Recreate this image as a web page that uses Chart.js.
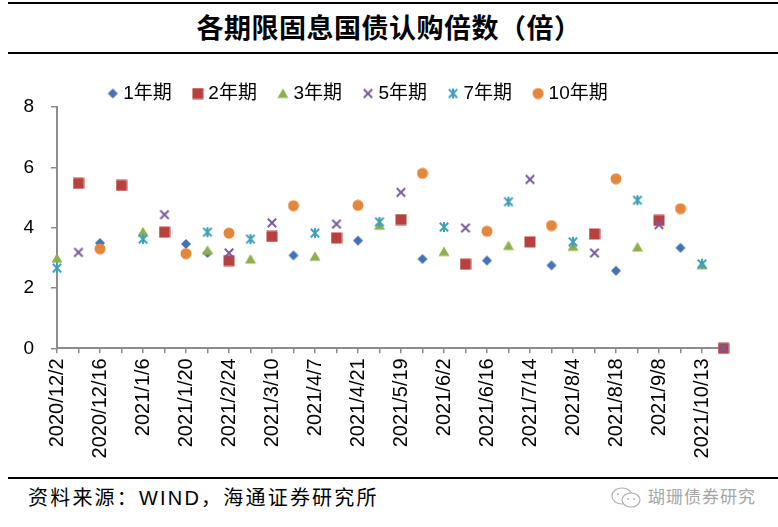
<!DOCTYPE html>
<html>
<head>
<meta charset="utf-8">
<script src="https://cdn.jsdelivr.net/npm/chart.js@4.4.0/dist/chart.umd.min.js"></script>
<style>
html,body{margin:0;padding:0;background:#fff;}
body{width:778px;height:527px;overflow:hidden;position:relative;font-family:"Liberation Sans","Noto Sans CJK SC",sans-serif;color:#000;}
.rule{position:absolute;left:8px;width:770px;height:2px;background:#000;}
#title{position:absolute;left:0;width:778px;top:11px;text-align:center;font-family:"Noto Sans CJK SC",sans-serif;font-weight:bold;font-size:27px;line-height:32px;letter-spacing:0.5px;}
#wrap{position:absolute;left:0;top:60px;width:778px;height:410px;}
#src{position:absolute;left:28px;top:485px;font-size:20px;line-height:26px;letter-spacing:2.2px;white-space:nowrap;font-family:"Liberation Sans","Noto Sans CJK SC",sans-serif;}
#wm{position:absolute;left:610px;top:484px;height:26px;white-space:nowrap;color:#a6a6a6;font-family:"Noto Sans CJK SC",sans-serif;font-size:17px;line-height:24px;letter-spacing:1px;}
#wm svg{vertical-align:middle;margin-right:4px;}
</style>
</head>
<body>
<div class="rule" style="top:2px"></div>
<div id="title">各期限固息国债认购倍数（倍）</div>
<div class="rule" style="top:52px"></div>
<div id="wrap"><canvas id="c"></canvas></div>
<div class="rule" style="top:477px"></div>
<div id="src">资料来源：WIND，海通证券研究所</div>
<div id="wm"><svg width="34" height="24" viewBox="0 0 34 24"><ellipse cx="12" cy="10" rx="10" ry="8" fill="none" stroke="#b0b0b0" stroke-width="1.2"/><ellipse cx="21" cy="14" rx="9" ry="7" fill="#fff" stroke="#b0b0b0" stroke-width="1.2"/><circle cx="18" cy="13" r="1" fill="#b0b0b0"/><circle cx="24" cy="13" r="1" fill="#b0b0b0"/><circle cx="8" cy="8" r="1" fill="#b0b0b0"/></svg>瑚珊债券研究</div>
<script>
// ---- data ----
const categories = [
  '2020/12/2','2020/12/9','2020/12/16','2020/12/23','2021/1/6','2021/1/13','2021/1/20','2021/2/3',
  '2021/2/24','2021/3/3','2021/3/10','2021/3/24','2021/4/7','2021/4/14','2021/4/21','2021/5/12',
  '2021/5/19','2021/5/26','2021/6/2','2021/6/9','2021/6/16','2021/7/7','2021/7/14','2021/7/21',
  '2021/8/4','2021/8/11','2021/8/18','2021/8/25','2021/9/8','2021/9/15','2021/10/13','2021/10/20'
];
const seriesNames = ['1年期','2年期','3年期','5年期','7年期','10年期'];
const y1  = [null,null,3.49,null,null,null,3.46,3.16,null,null,null,3.08,null,null,3.57,null,null,2.96,null,null,2.91,null,null,2.75,null,null,2.57,null,null,3.33,null,null];
const y2  = [null,5.47,null,5.40,null,3.85,null,null,2.91,null,3.71,null,null,3.66,null,null,4.27,null,null,2.79,null,null,3.53,null,null,3.79,null,null,4.24,null,null,0];
const y3  = [2.99,null,null,null,3.86,null,null,3.25,null,2.96,null,null,3.05,null,null,4.08,null,null,3.21,null,null,3.41,null,null,3.38,null,null,3.36,null,null,2.77,null];
const y5  = [null,3.18,null,null,null,4.43,null,null,3.16,null,4.16,null,null,4.12,null,null,5.17,null,null,3.99,null,null,5.60,null,null,3.16,null,null,4.10,null,null,0];
const y7  = [2.66,null,null,null,3.62,null,null,3.85,null,3.62,null,null,3.82,null,null,4.19,null,null,4.02,null,null,4.86,null,null,3.53,null,null,4.91,null,null,2.80,null];
const y10 = [null,null,3.30,null,null,null,3.14,null,3.82,null,null,4.73,null,null,4.74,null,null,5.80,null,null,3.88,null,null,4.07,null,null,5.62,null,null,4.63,null,null];
const yTicks = [0,2,4,6,8];

// ---- marker images ----
function marker(kind, color){
  const s = 12, m = 6;
  const c = document.createElement('canvas');
  c.width = s; c.height = s;
  const g = c.getContext('2d');
  g.fillStyle = color; g.strokeStyle = color; g.lineWidth = 2;
  g.beginPath();
  if (kind === 'diamond'){ g.moveTo(m, m-5); g.lineTo(m+5, m); g.lineTo(m, m+5); g.lineTo(m-5, m); g.closePath(); g.fill(); }
  else if (kind === 'square'){ g.fillRect(m-5.5, m-5.5, 11, 11); }
  else if (kind === 'triangle'){ g.moveTo(m, m-5); g.lineTo(m+5.5, m+4.5); g.lineTo(m-5.5, m+4.5); g.closePath(); g.fill(); }
  else if (kind === 'circle'){ g.arc(m, m, 5.5, 0, Math.PI*2); g.fill(); }
  else if (kind === 'x'){ g.moveTo(m-4.2, m-4.2); g.lineTo(m+4.2, m+4.2); g.moveTo(m+4.2, m-4.2); g.lineTo(m-4.2, m+4.2); g.stroke(); }
  else if (kind === 'star'){ g.moveTo(m-4.2, m-4.2); g.lineTo(m+4.2, m+4.2); g.moveTo(m+4.2, m-4.2); g.lineTo(m-4.2, m+4.2); g.moveTo(m, m-5); g.lineTo(m, m+5); g.stroke(); }
  return c;
}
const colors = ['#4472b4','#b8403f','#8db04d','#7a5b9c','#3fa0b9','#e4873b'];
const kinds = ['diamond','square','triangle','x','star','circle'];
const values = [y1, y2, y3, y5, y7, y10];

const datasets = values.map((v, i) => ({
  label: seriesNames[i],
  data: v,
  showLine: false,
  pointStyle: marker(kinds[i], colors[i]),
  pointRadius: 5,
  pointHoverRadius: 5,
  backgroundColor: colors[i],
  borderColor: colors[i],
  order: 6 - i,
  clip: false
}));

const FONT = '"Liberation Sans", "Noto Sans CJK SC", sans-serif';
const AX = '#8c8c8c';

const legendShift = {
  id: 'legendShift',
  afterLayout(chart){
    const lg = chart.legend; if (!lg) return;
    const dx = -2, dy = -1;
    lg.left += dx; lg.right += dx; lg.top += dy; lg.bottom += dy;
  }
};

new Chart(document.getElementById('c'), {
  type: 'line',
  data: { labels: categories, datasets },
  plugins: [legendShift],
  options: {
    responsive: true,
    maintainAspectRatio: false,
    animation: false,
    layout: { padding: { left: 0, right: 54.5, top: 0, bottom: 0 } },
    plugins: {
      legend: {
        display: true, position: 'top', reverse: true, maxHeight: 47,
        labels: { usePointStyle: true, boxWidth: 2, padding: 25, color: '#000', font: { size: 19, family: FONT } }
      },
      tooltip: { enabled: false },
      title: { display: false }
    },
    scales: {
      x: {
        type: 'category', offset: false,
        afterFit(s){ s.height = 121.7; },
        border: { display: true, color: AX, width: 2 },
        grid: { display: true, drawOnChartArea: false, drawTicks: true, tickLength: 5, color: AX, lineWidth: 1.5 },
        ticks: { autoSkip: false, maxRotation: 90, minRotation: 90, padding: 5, color: '#000', font: { size: 20, family: FONT },
          callback: (v, i) => (i % 2 === 0 ? categories[i] : '') }
      },
      y: {
        min: 0, max: 8,
        afterFit(s){ s.width = 57; },
        afterBuildTicks(s){ s.ticks = yTicks.map(v => ({ value: v })); },
        border: { display: true, color: AX, width: 2 },
        grid: { display: true, drawOnChartArea: false, drawTicks: true, tickLength: 6, color: AX, lineWidth: 1.5 },
        ticks: { padding: 17, color: '#000', font: { size: 19, family: FONT } }
      }
    }
  }
});
</script>
</body>
</html>
